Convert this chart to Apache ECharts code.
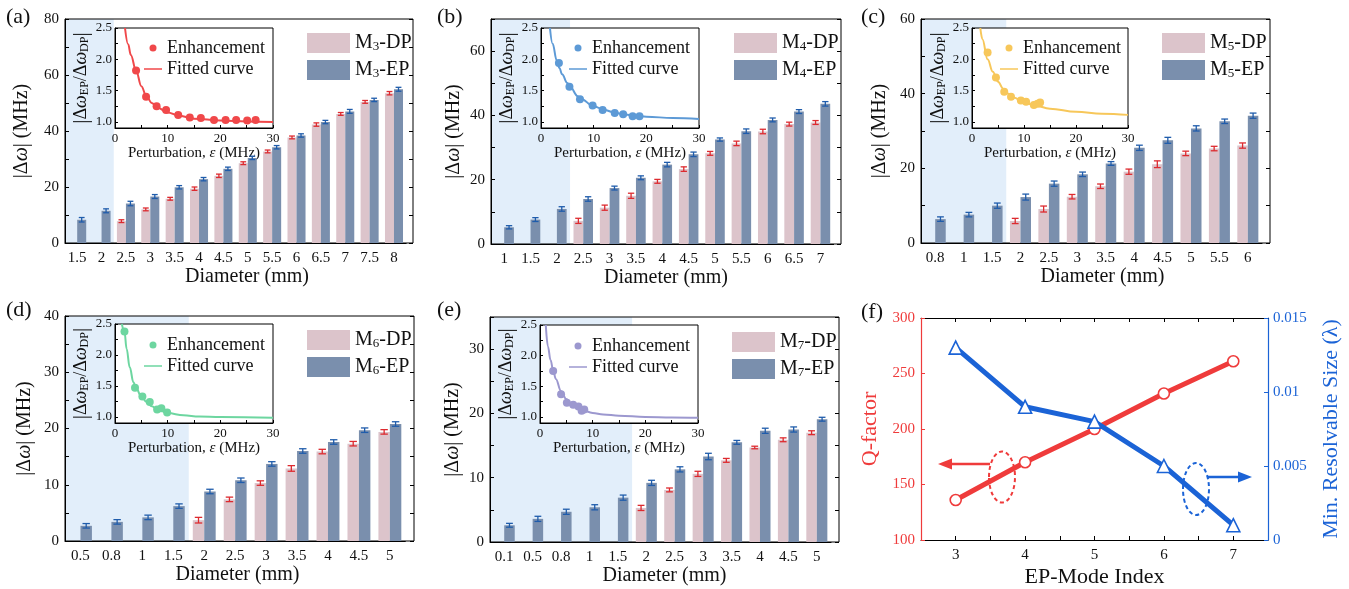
<!DOCTYPE html>
<html><head><meta charset="utf-8">
<script src="https://cdn.jsdelivr.net/npm/echarts@6/dist/echarts.min.js"></script>
<style>html,body{margin:0;padding:0;background:#fff}#c{width:1349px;height:589px}</style>
</head><body><div id="c"></div>
<script>
// ---------------- DATA ----------------
const catsA = ['1.5','2','2.5','3','3.5','4','4.5','5','5.5','6','6.5','7','7.5','8'];
const dpA    = [null,null,7.8,12.0,15.8,19.4,24.0,28.5,32.7,37.7,42.3,46.1,50.4,53.5];
const dpErrA = [null,null,0.5,0.5,0.5,0.6,0.6,0.5,0.5,0.5,0.6,0.5,0.5,0.6];
const epA    = [8.3,11.5,14.1,16.6,19.9,22.8,26.5,30.4,34.2,38.4,43.2,47.0,51.1,54.9];
const epErrA = [0.8,0.7,0.8,0.7,0.6,0.6,0.6,0.6,0.6,0.6,0.6,0.7,0.6,0.7];
const shadeA = 2;
const yTicksA = [0,20,40,60,80];
const yMarksA = [0,10,20,30,40,50,60,70,80];
const enhA = [[4.0,1.82],[5.9,1.40],[7.9,1.25],[9.7,1.19],[12.0,1.11],[14.2,1.07],[16.3,1.06],[18.8,1.03],[21.0,1.03],[23.0,1.03],[25.1,1.02],[26.7,1.03]];
const fitA = [[1.9,2.5],[2.5,2.24],[3,2.07],[4,1.82],[5,1.57],[6,1.40],[7,1.30],[8,1.23],[10,1.15],[12,1.10],[15,1.05],[20,1.02],[25,1.005],[30,0.995]];

const catsB = ['1','1.5','2','2.5','3','3.5','4','4.5','5','5.5','6','6.5','7'];
const dpB    = [null,null,null,7.2,11.3,15.0,19.5,23.3,28.2,31.3,35.0,37.3,37.8];
const dpErrB = [null,null,null,0.8,0.8,0.8,0.6,0.7,0.6,0.7,0.7,0.6,0.6];
const epB    = [5.2,7.6,10.9,14.0,17.4,20.6,24.7,27.9,32.5,35.1,38.6,41.2,43.6];
const epErrB = [0.5,0.6,0.7,0.7,0.6,0.6,0.7,0.7,0.5,0.7,0.6,0.6,0.7];
const shadeB = 3;
const yTicksB = [0,20,40,60];
const yMarksB = [0,10,20,30,40,50,60,70];
const enhB = [[3.4,1.94],[5.4,1.56],[7.4,1.36],[9.8,1.26],[11.7,1.19],[14.0,1.14],[15.6,1.12],[17.4,1.09],[18.7,1.09]];
const fitB = [[1.7,2.5],[2.2,2.25],[3,1.98],[3.5,1.86],[4,1.76],[5,1.62],[5.5,1.56],[7,1.41],[7.5,1.37],[10,1.25],[12,1.19],[14,1.145],[16,1.115],[18,1.095],[20,1.08],[25,1.06],[30,1.045]];

const catsC = ['0.8','1','1.5','2','2.5','3','3.5','4','4.5','5','5.5','6'];
const dpC    = [null,null,null,5.9,9.1,12.4,15.2,19.1,21.1,24.0,25.3,26.1];
const dpErrC = [null,null,null,0.7,0.8,0.6,0.6,0.7,0.9,0.6,0.6,0.7];
const epC    = [6.4,7.6,10.0,12.3,15.9,18.4,21.3,25.5,27.5,30.7,32.6,34.1];
const epErrC = [0.6,0.6,0.7,0.8,0.7,0.6,0.5,0.7,0.8,0.7,0.6,0.7];
const shadeC = 3;
const yTicksC = [0,20,40,60];
const yMarksC = [0,10,20,30,40,50,60];
const enhC = [[3.0,2.11],[4.6,1.71],[6.2,1.48],[7.5,1.40],[9.4,1.34],[10.4,1.32],[11.9,1.27],[12.6,1.29],[13.1,1.31]];
const fitC = [[1.6,2.5],[2,2.32],[3,2.0],[4,1.80],[5,1.64],[6,1.53],[7,1.45],[8,1.39],[10,1.31],[12,1.26],[15,1.21],[20,1.16],[25,1.13],[30,1.11]];

const catsD = ['0.5','0.8','1','1.5','2','2.5','3','3.5','4','4.5','5'];
const dpD    = [null,null,null,null,3.7,7.4,10.3,12.9,15.9,17.3,19.4];
const dpErrD = [null,null,null,null,0.5,0.4,0.4,0.5,0.4,0.4,0.4];
const epD    = [2.7,3.4,4.2,6.2,8.8,10.8,13.7,16.0,17.6,19.7,20.8];
const epErrD = [0.4,0.4,0.4,0.4,0.4,0.4,0.4,0.4,0.4,0.4,0.4];
const shadeD = 4;
const yTicksD = [0,10,20,30,40];
const yMarksD = [0,5,10,15,20,25,30,35,40];
const enhD = [[1.8,2.38],[3.8,1.47],[5.2,1.33],[6.6,1.24],[8.0,1.12],[8.8,1.14],[9.9,1.07]];
const fitD = [[1.3,2.5],[1.8,2.38],[2.2,2.1],[2.8,1.8],[3.5,1.56],[4,1.46],[5,1.33],[6,1.24],[7,1.17],[8,1.12],[10,1.06],[13,1.025],[16,1.005],[20,0.995],[30,0.985]];

const catsE = ['0.1','0.5','0.8','1','1.5','2','2.5','3','3.5','4','4.5','5'];
const dpE    = [null,null,null,null,null,5.3,8.1,10.6,12.7,14.7,15.9,17.0];
const dpErrE = [null,null,null,null,null,0.4,0.3,0.4,0.3,0.2,0.3,0.3];
const epE    = [2.6,3.6,4.7,5.4,6.9,9.2,11.3,13.3,15.5,17.3,17.5,19.1];
const epErrE = [0.3,0.4,0.4,0.4,0.4,0.4,0.4,0.5,0.3,0.4,0.4,0.3];
const shadeE = 5;
const yTicksE = [0,10,20,30];
const yMarksE = [0,5,10,15,20,25,30,35];
const enhE = [[2.5,1.75],[4.0,1.37],[5.1,1.23],[6.3,1.20],[7.3,1.17],[7.9,1.10],[8.4,1.12]];
const fitE = [[1.1,2.5],[1.5,2.15],[2,1.93],[2.5,1.76],[3,1.62],[4,1.42],[5,1.29],[6,1.21],[7,1.15],[8,1.11],[10,1.065],[12,1.04],[15,1.02],[20,1.0],[25,0.99],[30,0.985]];

const insetXTicks = [0,10,20,30];
const insetXMarks = [0,5,10,15,20,25,30];
const insetYTicks = [1.0,1.5,2.0,2.5];
const insetYMarks = [1.0,1.25,1.5,1.75,2.0,2.25,2.5];

const modeIdx = [3,4,5,6,7];
const qFactor = [136,170,200,232,261];
const minSize = [0.013,0.009,0.008,0.005,0.001];
const fXTicks = [3,4,5,6,7];
const fXMarks = [3,3.5,4,4.5,5,5.5,6,6.5,7];
const fQTicks = [100,150,200,250,300];
const fSTicks = [0,0.005,0.01,0.015];

// ---------------- STYLE / LAYOUT ----------------
const F = 'Liberation Serif';
const DP_COLOR = '#dcc4cb', EP_COLOR = '#7a8fad', DP_ERR = '#dd2a2f', EP_ERR = '#1f5cab', SHADE = '#e2eefa';
const RED = '#ef3b3b', BLUE = '#1b63d6';
const BAR_FRAC = 0.37;
const RIGHT_PAD = 0.28; // extra empty space (in category bands) at the right of each bar panel

const mains = [
  {cats:catsA, dp:dpA, dpErr:dpErrA, ep:epA, epErr:epErrA, shade:shadeA, yT:yTicksA, yM:yMarksA, yMax:80, m:'3',
   grid:{left:65,top:19,width:348,height:224}, leg:{left:302,top:28}, nameGap:33, xNameShift:8,
   inset:{enh:enhA, fit:fitA, color:'#f0484a', grid:{left:115,top:28,width:158,height:100}, leg:{left:139,top:34}}},
  {cats:catsB, dp:dpB, dpErr:dpErrB, ep:epB, epErr:epErrB, shade:shadeB, yT:yTicksB, yM:yMarksB, yMax:70, m:'4',
   grid:{left:491,top:19,width:350,height:225}, leg:{left:729,top:28}, nameGap:27, xNameShift:0,
   inset:{enh:enhB, fit:fitB, color:'#5d9ad6', grid:{left:541,top:28,width:158,height:100}, leg:{left:564,top:34}}},
  {cats:catsC, dp:dpC, dpErr:dpErrC, ep:epC, epErr:epErrC, shade:shadeC, yT:yTicksC, yM:yMarksC, yMax:60, m:'5',
   grid:{left:921,top:19,width:349,height:224}, leg:{left:1157,top:28}, nameGap:31, xNameShift:7,
   inset:{enh:enhC, fit:fitC, color:'#f7c75a', grid:{left:972,top:28,width:156,height:100}, leg:{left:995,top:34}}},
  {cats:catsD, dp:dpD, dpErr:dpErrD, ep:epD, epErr:epErrD, shade:shadeD, yT:yTicksD, yM:yMarksD, yMax:40, m:'6',
   grid:{left:65,top:316,width:349,height:225}, leg:{left:302,top:325}, nameGap:30, xNameShift:-2,
   inset:{enh:enhD, fit:fitD, color:'#6dd6a0', grid:{left:115,top:324,width:158,height:99}, leg:{left:139,top:331}}},
  {cats:catsE, dp:dpE, dpErr:dpErrE, ep:epE, epErr:epErrE, shade:shadeE, yT:yTicksE, yM:yMarksE, yMax:35, m:'7',
   grid:{left:490,top:317,width:349,height:225}, leg:{left:727,top:327}, nameGap:27, xNameShift:0,
   inset:{enh:enhE, fit:fitE, color:'#9c98cf', grid:{left:540,top:325,width:158,height:98}, leg:{left:564,top:332}}}
];

const txt = {fontFamily:F, color:'#111'};
const grids = [], xAxis = [], yAxis = [], series = [], legend = [];

function shadeRender(params, api){
  const bw = api.size([1,0])[0];
  const cs = params.coordSys;
  const xEnd = api.coord([0,0])[0] - bw/2 + api.value(0)*bw;
  return {type:'rect', shape:{x:cs.x, y:cs.y, width:xEnd-cs.x, height:cs.height}, style:{fill:SHADE}};
}
function errRender(sign, color){
  return function(params, api){
    const k = api.value(0), v = api.value(1), e = api.value(2);
    const bw = api.size([1,0])[0];
    const c = api.coord([k, v]);
    const x = c[0] + sign*bw*BAR_FRAC/2;
    const yT = api.coord([k, v+e])[1], yB = api.coord([k, v-e])[1];
    const cap = bw*0.12;
    const st = {stroke:color, lineWidth:1.3};
    return {type:'group', children:[
      {type:'line', shape:{x1:x,y1:yT,x2:x,y2:yB}, style:st},
      {type:'line', shape:{x1:x-cap,y1:yT,x2:x+cap,y2:yT}, style:st},
      {type:'line', shape:{x1:x-cap,y1:yB,x2:x+cap,y2:yB}, style:st}]};
  };
}

const legendRich = {
  n:{fontFamily:F, fontSize:20, color:'#111'},
  s:{fontFamily:F, fontSize:13, color:'#111', verticalAlign:'bottom', lineHeight:12}
};
const LINE_ICON = 'path://M0,0H24V2H0Z';

mains.forEach((p, i) => {
  // frame (full box, border only)
  grids.push(Object.assign({show:true, borderColor:'#000', borderWidth:1, backgroundColor:'transparent'}, p.grid));
  // plotting grid, narrower so the last band leaves extra space at the right
  const extra = RIGHT_PAD * p.grid.width / (p.cats.length + RIGHT_PAD);
  const gi = grids.length;
  grids.push({left:p.grid.left, top:p.grid.top, width:p.grid.width - extra, height:p.grid.height, show:false});
  // centre of the x name relative to the plotting grid
  const shift = extra / 2 + p.xNameShift;
  const pad = shift >= 0 ? [0, 0, 0, 2*shift] : [0, -2*shift, 0, 0];
  const xi = xAxis.length;
  xAxis.push({type:'category', gridIndex:gi, data:p.cats,
    axisLine:{lineStyle:{color:'#000'}}, axisTick:{show:false},
    axisLabel:Object.assign({interval:0, fontSize:15, margin:8}, txt),
    name:'Diameter (mm)', nameLocation:'middle', nameGap:24,
    nameTextStyle:Object.assign({fontSize:20, padding:pad}, txt)});
  const yi = yAxis.length;
  yAxis.push({type:'value', gridIndex:gi, min:0, max:p.yMax,
    axisLine:{show:true, lineStyle:{color:'#000'}},
    axisTick:{show:true, inside:true, length:4, customValues:p.yM, lineStyle:{color:'#000'}},
    axisLabel:Object.assign({customValues:p.yT, fontSize:15, margin:6}, txt),
    splitLine:{show:false},
    name:'{a||Δ}{i|ω}{a||} {a|(MHz)}', nameLocation:'middle', nameGap:p.nameGap, nameRotate:90,
    nameTextStyle:{fontFamily:F, fontSize:20, color:'#111', rich:{
      a:{fontFamily:F, fontSize:20, color:'#111'}, i:{fontFamily:F, fontSize:20, color:'#111', fontStyle:'italic'}}}});
  yAxis.push({type:'value', gridIndex:gi, position:'right', offset:extra, min:0, max:p.yMax,
    axisLine:{show:false}, axisLabel:{show:false}, splitLine:{show:false},
    axisTick:{show:true, inside:true, length:4, customValues:p.yM, lineStyle:{color:'#000'}}});

  series.push({type:'custom', xAxisIndex:xi, yAxisIndex:yi, z:-10, silent:true,
    data:[[p.shade, 0]], renderItem:shadeRender});
  const nDP = 'M' + p.m + '-DP', nEP = 'M' + p.m + '-EP';
  series.push({type:'bar', name:nDP, xAxisIndex:xi, yAxisIndex:yi, data:p.dp,
    barWidth:(BAR_FRAC*100)+'%', barGap:'0%', itemStyle:{color:DP_COLOR}, silent:true});
  series.push({type:'bar', name:nEP, xAxisIndex:xi, yAxisIndex:yi, data:p.ep,
    barWidth:(BAR_FRAC*100)+'%', barGap:'0%', itemStyle:{color:EP_COLOR}, silent:true});
  series.push({type:'custom', xAxisIndex:xi, yAxisIndex:yi, z:5, silent:true,
    data:p.dp.map((v,k) => v == null ? null : [k, v, p.dpErr[k]]).filter(Boolean),
    renderItem:errRender(-1, DP_ERR)});
  series.push({type:'custom', xAxisIndex:xi, yAxisIndex:yi, z:5, silent:true,
    data:p.ep.map((v,k) => [k, v, p.epErr[k]]), renderItem:errRender(1, EP_ERR)});

  legend.push({left:p.leg.left, top:p.leg.top, orient:'vertical', itemWidth:43, itemHeight:20, itemGap:7,
    icon:'rect', selectedMode:false, data:[nDP, nEP],
    formatter:n => n.replace(/M(\d)-(\w+)/, '{n|M}{s|$1}{n|-$2}'),
    textStyle:{fontFamily:F, fontSize:20, color:'#111', rich:legendRich}});

  // ---- inset
  const q = p.inset;
  const gj = grids.length;
  grids.push(Object.assign({show:true, borderColor:'#000', borderWidth:1, backgroundColor:'#fff'}, q.grid));
  const xj = xAxis.length;
  xAxis.push({type:'value', gridIndex:gj, min:0, max:30,
    axisLine:{lineStyle:{color:'#000'}},
    axisTick:{show:true, inside:true, length:3, customValues:insetXMarks, lineStyle:{color:'#000'}},
    axisLabel:Object.assign({customValues:insetXTicks, fontSize:13, margin:4}, txt),
    splitLine:{show:false},
    name:'{a|Perturbation, }{i|ε}{a| (MHz)}', nameLocation:'middle', nameGap:15,
    nameTextStyle:{fontFamily:F, fontSize:15, color:'#111', rich:{
      a:{fontFamily:F, fontSize:15, color:'#111'}, i:{fontFamily:F, fontSize:15, color:'#111', fontStyle:'italic'}}}});
  const yj = yAxis.length;
  yAxis.push({type:'value', gridIndex:gj, min:0.9, max:2.5,
    axisLine:{show:true, lineStyle:{color:'#000'}},
    axisTick:{show:true, inside:true, length:3, customValues:insetYMarks, lineStyle:{color:'#000'}},
    axisLabel:Object.assign({customValues:insetYTicks, fontSize:13, margin:3, formatter:v => v.toFixed(1)}, txt),
    splitLine:{show:false},
    name:'{b||}{a|Δ}{i|ω}{s|EP}{a|/Δ}{i|ω}{s|DP}{b||}', nameLocation:'middle', nameGap:19, nameRotate:90,
    nameTextStyle:{fontFamily:F, fontSize:18, color:'#111', rich:{
      b:{fontFamily:F, fontSize:21, color:'#111', lineHeight:19},
      a:{fontFamily:F, fontSize:18, color:'#111', lineHeight:19},
      i:{fontFamily:F, fontSize:18, color:'#111', fontStyle:'italic', lineHeight:19},
      s:{fontFamily:F, fontSize:12, color:'#111', verticalAlign:'bottom', lineHeight:12}}}});
  const zw = '\u200B'.repeat(i + 1);
  series.push({type:'line', name:'Fitted curve' + zw, xAxisIndex:xj, yAxisIndex:yj, data:q.fit,
    smooth:0.4, smoothMonotone:'x', symbol:'none', lineStyle:{color:q.color, width:2}, itemStyle:{color:q.color}, z:3, silent:true});
  series.push({type:'scatter', name:'Enhancement' + zw, xAxisIndex:xj, yAxisIndex:yj, data:q.enh,
    symbolSize:8, itemStyle:{color:q.color, opacity:1}, z:4, silent:true});
  legend.push({left:q.leg.left, top:q.leg.top, orient:'vertical', itemWidth:18, itemHeight:7, itemGap:3,
    selectedMode:false,
    data:[{name:'Enhancement' + zw, icon:'circle'}, {name:'Fitted curve' + zw, icon:LINE_ICON}],
    formatter:n => n.replace(/\u200B/g, ''),
    textStyle:{fontFamily:F, fontSize:18, color:'#111'}});
});

// ---- panel (f)
const gf = grids.length;
grids.push({left:921, top:318, width:347, height:225, show:false});
const xf = xAxis.length;
xAxis.push({type:'value', gridIndex:gf, min:2.5, max:7.5,
  axisLine:{lineStyle:{color:'#000'}},
  axisTick:{show:true, inside:true, length:4, customValues:fXMarks, lineStyle:{color:'#000'}},
  axisLabel:Object.assign({customValues:fXTicks, fontSize:15, margin:8}, txt),
  splitLine:{show:false},
  name:'EP-Mode Index', nameLocation:'middle', nameGap:26, nameTextStyle:Object.assign({fontSize:22}, txt)});
xAxis.push({type:'value', gridIndex:gf, position:'top', min:2.5, max:7.5,
  axisLine:{lineStyle:{color:'#000'}}, axisLabel:{show:false}, splitLine:{show:false},
  axisTick:{show:true, inside:true, length:4, customValues:fXMarks, lineStyle:{color:'#000'}}});
const yfl = yAxis.length;
yAxis.push({type:'value', gridIndex:gf, min:100, max:300,
  axisLine:{show:true, lineStyle:{color:RED, width:1.2}},
  axisTick:{show:true, inside:true, length:4, customValues:fQTicks, lineStyle:{color:RED}},
  axisLabel:{customValues:fQTicks, fontFamily:F, fontSize:15, color:RED, margin:6},
  splitLine:{show:false},
  name:'Q-factor', nameLocation:'middle', nameGap:40, nameRotate:90,
  nameTextStyle:{fontFamily:F, fontSize:22, color:RED}});
const yfr = yAxis.length;
yAxis.push({type:'value', gridIndex:gf, position:'right', min:0, max:0.015,
  axisLine:{show:true, lineStyle:{color:BLUE, width:1.2}},
  axisTick:{show:true, inside:true, length:4, customValues:fSTicks, lineStyle:{color:BLUE}},
  axisLabel:{customValues:fSTicks, fontFamily:F, fontSize:15, color:BLUE, margin:5, formatter:v => String(v)},
  splitLine:{show:false},
  name:'Min. Resolvable Size (λ)', nameLocation:'middle', nameGap:52, nameRotate:90,
  nameTextStyle:{fontFamily:F, fontSize:22, color:BLUE}});
series.push({type:'line', xAxisIndex:xf, yAxisIndex:yfl, data:modeIdx.map((m,k) => [m, qFactor[k]]),
  symbol:'circle', symbolSize:11, lineStyle:{color:RED, width:5},
  itemStyle:{color:'#fff', borderColor:RED, borderWidth:1.6}, z:3, silent:true});
series.push({type:'line', xAxisIndex:xf, yAxisIndex:yfr, data:modeIdx.map((m,k) => [m, minSize[k]]),
  symbol:'triangle', symbolSize:13, lineStyle:{color:BLUE, width:5},
  itemStyle:{color:'#fff', borderColor:BLUE, borderWidth:1.6}, z:4, silent:true});

// ---- decorations
const lab = (t, x, y) => ({type:'text', x:x, y:y, style:{text:t, font:'22px "Liberation Serif"', fill:'#111', verticalAlign:'middle'}});
const graphic = [
  lab('(a)', 6, 17), lab('(b)', 437, 17), lab('(c)', 861, 17),
  lab('(d)', 6, 310), lab('(e)', 437, 310), lab('(f)', 861, 312),
  {type:'ellipse', shape:{cx:1002, cy:477, rx:13, ry:25.5}, style:{fill:null, stroke:RED, lineWidth:2, lineDash:[4,3]}, z:10},
  {type:'line', shape:{x1:990, y1:464, x2:950, y2:464}, style:{stroke:RED, lineWidth:2.5}, z:10},
  {type:'polygon', shape:{points:[[938,464],[952,458.5],[952,469.5]]}, style:{fill:RED}, z:10},
  {type:'ellipse', shape:{cx:1196, cy:489, rx:13, ry:26}, style:{fill:null, stroke:BLUE, lineWidth:2, lineDash:[4,3]}, z:10},
  {type:'line', shape:{x1:1207, y1:477, x2:1240, y2:477}, style:{stroke:BLUE, lineWidth:2.5}, z:10},
  {type:'polygon', shape:{points:[[1252,477],[1238,471.5],[1238,482.5]]}, style:{fill:BLUE}, z:10}
];

const chart = echarts.init(document.getElementById('c'), null, {renderer:'canvas'});
chart.setOption({
  animation:false, backgroundColor:'#fff',
  textStyle:{fontFamily:F},
  grid:grids, xAxis:xAxis, yAxis:yAxis, series:series, legend:legend, graphic:graphic
});
</script></body></html>
